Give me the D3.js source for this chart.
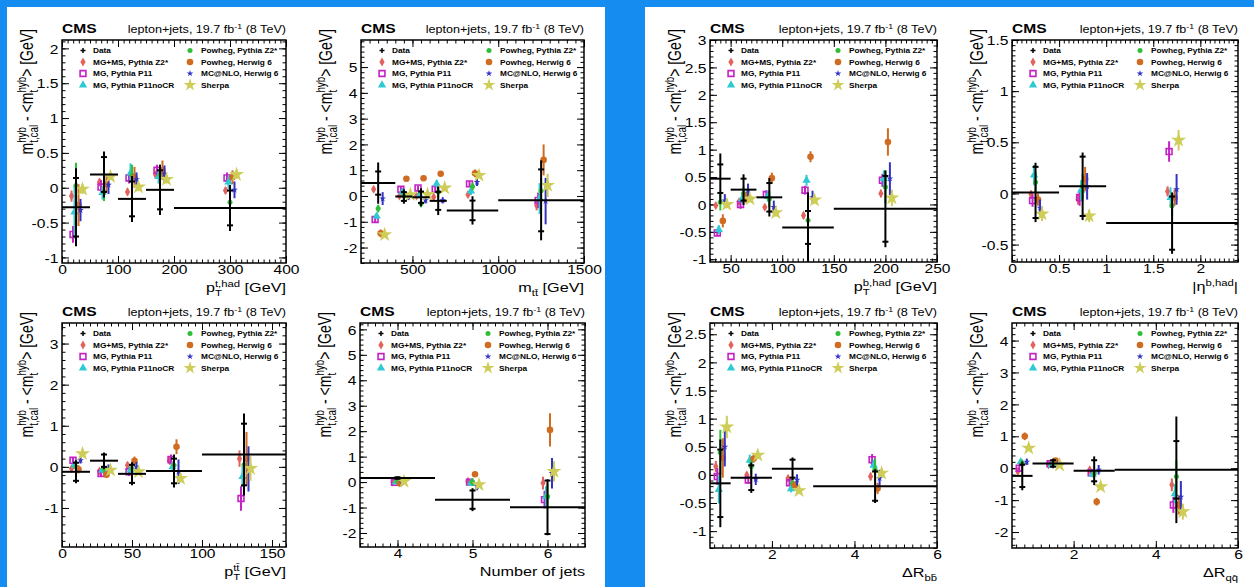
<!DOCTYPE html>
<html>
<head>
<meta charset="utf-8">
<script src="https://cdn.jsdelivr.net/npm/d3@7"></script>
<style>
  html, body { margin: 0; padding: 0; background: #148cf0; }
  svg { display: block; font-family: "Liberation Sans", Arial, Helvetica, sans-serif; }
  text { white-space: pre; }
</style>
</head>
<body>
<script>
// ---------- generators ----------
const generators = ["MG+MS, Pythia Z2*", "MG, Pythia P11", "MG, Pythia P11noCR",
                    "Powheg, Pythia Z2*", "Powheg, Herwig 6", "MC@NLO, Herwig 6", "Sherpa"];
const genColors = ["#e4625c", "#c423c4", "#2fc9d4", "#2fbd3a", "#cf6c22", "#3434c4", "#cdcd58"];

// ---------- p_T(t,had) ----------
const ptTopEdges   = [0, 50, 100, 150, 200, 400];
const ptTopCenters = [25, 75, 125, 175, 300];
const ptTopData    = [-0.28, 0.19, -0.16, -0.03, -0.29];
const ptTopStat    = [0.42, 0.25, 0.25, 0.28, 0.25];
const ptTopTotal   = [0.56, 0.33, 0.33, 0.36, 0.33];
const ptTopMC = [
  [-0.12, 0.08, -0.06, 0.19, -0.04],
  [-0.67, 0.01, 0.14, 0.25, 0.14],
  [-0.35, -0.07, 0.21, 0.16, 0.08],
  [0.03, -0.06, 0.18, 0.19, -0.21],
  [-0.25, 0.05, 0.15, 0.25, 0.15],
  [-0.32, 0.04, 0.12, 0.20, -0.03],
  [-0.02, 0.16, 0.01, 0.12, 0.19]
];
const ptTopMCErr = [
  [0.08, 0.05, 0.05, 0.05, 0.05],
  [0.12, 0.10, 0.08, 0.08, 0.08],
  [0.38, 0.10, 0.14, 0.10, 0.10],
  [0.33, 0.13, 0.15, 0.14, 0.12],
  [0.30, 0.12, 0.15, 0.14, 0.10],
  [0.16, 0.13, 0.10, 0.12, 0.12],
  [0.07, 0.05, 0.06, 0.06, 0.06]
];

// ---------- m(tt) ----------
const mttEdges   = [200, 400, 500, 600, 700, 1000, 1500];
const mttCenters = [300, 450, 550, 650, 850, 1250];
const mttData    = [0.50, -0.02, -0.05, -0.19, -0.56, -0.17];
const mttStat    = [0.45, 0.17, 0.22, 0.35, 0.38, 1.20];
const mttTotal   = [0.80, 0.28, 0.35, 0.55, 0.55, 1.55];
const mttMC = [
  [0.26, 0.00, 0.00, -0.04, 0.05, -0.36],
  [-0.91, 0.26, 0.31, 0.26, 0.47, -0.17],
  [-0.78, 0.15, 0.03, 0.47, 0.19, -0.10],
  [-0.49, 0.00, -0.29, 0.15, 0.37, 0.20],
  [-1.45, 0.67, 0.69, 0.86, 0.88, 1.40],
  [-0.10, -0.04, -0.17, -0.17, 0.54, -0.20],
  [-1.50, 0.05, 0.06, 0.31, 0.80, 0.41]
];
const mttMCErr = [
  [0.10, 0.08, 0.08, 0.10, 0.10, 0.20],
  [0.12, 0.10, 0.10, 0.10, 0.12, 0.30],
  [0.12, 0.10, 0.12, 0.15, 0.15, 0.60],
  [0.15, 0.15, 0.15, 0.20, 0.15, 0.50],
  [0.15, 0.10, 0.10, 0.10, 0.15, 0.60],
  [0.25, 0.12, 0.12, 0.12, 0.15, 0.90],
  [0.10, 0.08, 0.08, 0.10, 0.10, 0.45]
];

// ---------- p_T(tt) ----------
const ptTTEdges   = [0, 20, 40, 60, 100, 160];
const ptTTCenters = [10, 30, 50, 80, 130];
const ptTTData    = [-0.12, 0.15, -0.17, -0.10, 0.30];
const ptTTStat    = [0.22, 0.15, 0.22, 0.30, 0.75];
const ptTTTotal   = [0.28, 0.20, 0.28, 0.40, 1.00];
const ptTTMC = [
  [-0.04, -0.10, 0.04, 0.15, 0.20],
  [0.16, -0.16, -0.12, 0.18, -0.77],
  [0.04, -0.08, -0.08, 0.00, -0.24],
  [0.00, -0.04, -0.04, 0.04, 0.05],
  [-0.06, -0.19, 0.15, 0.49, 0.20],
  [0.16, -0.04, 0.00, -0.12, -0.05],
  [0.32, -0.08, -0.12, -0.28, -0.04]
];
const ptTTMCErr = [
  [0.05, 0.05, 0.08, 0.08, 0.20],
  [0.08, 0.08, 0.10, 0.12, 0.30],
  [0.10, 0.08, 0.10, 0.12, 0.25],
  [0.12, 0.10, 0.12, 0.20, 0.50],
  [0.10, 0.08, 0.10, 0.18, 0.65],
  [0.08, 0.10, 0.12, 0.30, 0.55],
  [0.05, 0.05, 0.06, 0.10, 0.30]
];

// ---------- number of jets ----------
const njEdges   = [3.5, 4.5, 5.5, 6.5];
const njCenters = [4, 5, 6];
const njData    = [0.16, -0.69, -0.99];
const njStat    = [0.03, 0.36, 1.05];
const njTotal   = [0.06, 0.45, 1.10];
const njMC = [
  [0.00, 0.03, -0.04],
  [-0.01, 0.00, -0.69],
  [0.00, -0.04, -0.56],
  [0.03, 0.00, -0.56],
  [-0.06, 0.31, 2.05],
  [0.00, -0.17, 0.35],
  [0.03, -0.10, 0.42]
];
const njMCErr = [
  [0.04, 0.07, 0.25],
  [0.04, 0.08, 0.35],
  [0.04, 0.10, 0.40],
  [0.05, 0.15, 0.50],
  [0.05, 0.10, 0.65],
  [0.04, 0.15, 0.60],
  [0.04, 0.10, 0.40]
];

// ---------- p_T(b,had) ----------
const ptBEdges   = [30, 50, 75, 100, 150, 250];
const ptBCenters = [40, 62.5, 87.5, 125, 200];
const ptBData    = [0.47, 0.27, 0.13, -0.42, -0.08];
const ptBStat    = [0.26, 0.20, 0.26, 0.30, 0.60];
const ptBTotal   = [0.46, 0.28, 0.35, 0.64, 0.70];
const ptBMC = [
  [-0.02, 0.05, -0.05, -0.20, 0.20],
  [-0.52, 0.00, 0.18, 0.26, 0.44],
  [-0.46, 0.10, 0.15, 0.44, 0.47],
  [0.04, 0.20, 0.10, -0.29, 0.32],
  [-0.30, 0.13, 0.48, 0.87, 1.14],
  [0.07, 0.26, -0.05, 0.13, 0.47],
  [0.00, 0.10, -0.15, 0.08, 0.12]
];
const ptBMCErr = [
  [0.05, 0.05, 0.05, 0.06, 0.07],
  [0.06, 0.08, 0.08, 0.08, 0.12],
  [0.08, 0.08, 0.10, 0.10, 0.15],
  [0.15, 0.12, 0.15, 0.12, 0.30],
  [0.12, 0.10, 0.10, 0.10, 0.25],
  [0.12, 0.12, 0.12, 0.12, 0.30],
  [0.07, 0.06, 0.07, 0.07, 0.15]
];

// ---------- |eta(b,had)| ----------
const etaBEdges   = [0, 0.5, 1, 2.4];
const etaBCenters = [0.25, 0.75, 1.7];
const etaBData    = [0.01, 0.07, -0.29];
const etaBStat    = [0.25, 0.29, 0.26];
const etaBTotal   = [0.29, 0.33, 0.30];
const etaBMC = [
  [-0.01, -0.06, 0.02],
  [-0.07, -0.04, 0.41],
  [0.18, 0.03, -0.04],
  [0.11, 0.07, -0.12],
  [-0.06, 0.14, -0.04],
  [-0.14, 0.07, 0.04],
  [-0.20, -0.22, 0.52]
];
const etaBMCErr = [
  [0.04, 0.05, 0.05],
  [0.06, 0.08, 0.10],
  [0.10, 0.10, 0.10],
  [0.10, 0.12, 0.10],
  [0.06, 0.12, 0.08],
  [0.08, 0.13, 0.15],
  [0.07, 0.06, 0.10]
];

// ---------- DeltaR(b,b) ----------
const drBBEdges   = [0.5, 1, 2, 3, 6];
const drBBCenters = [0.75, 1.5, 2.5, 4.5];
const drBBData    = [-0.15, -0.05, 0.11, -0.20];
const drBBStat    = [0.60, 0.22, 0.16, 0.26];
const drBBTotal   = [0.78, 0.27, 0.20, 0.30];
const drBBMC = [
  [0.15, 0.00, -0.06, -0.03],
  [-0.03, -0.09, -0.14, 0.27],
  [-0.26, 0.26, -0.25, 0.17],
  [0.40, 0.15, -0.15, 0.09],
  [0.30, 0.29, -0.18, -0.24],
  [0.50, -0.08, -0.09, -0.06],
  [0.85, 0.35, -0.28, 0.03]
];
const drBBMCErr = [
  [0.10, 0.05, 0.05, 0.07],
  [0.15, 0.07, 0.06, 0.10],
  [0.25, 0.10, 0.06, 0.10],
  [0.40, 0.15, 0.08, 0.20],
  [0.35, 0.07, 0.06, 0.10],
  [0.35, 0.10, 0.10, 0.15],
  [0.20, 0.07, 0.05, 0.07]
];

// ---------- DeltaR(q,q) ----------
const drQQEdges   = [0.5, 1, 2, 3, 6];
const drQQCenters = [0.75, 1.5, 2.5, 4.5];
const drQQData    = [-0.24, 0.15, -0.08, -0.05];
const drQQStat    = [0.35, 0.10, 0.33, 0.90];
const drQQTotal   = [0.45, 0.15, 0.45, 1.67];
const drQQMC = [
  [-0.10, 0.10, -0.05, -0.52],
  [0.00, 0.14, -0.14, -1.15],
  [0.20, 0.10, -0.19, -0.80],
  [0.15, 0.16, -0.16, -0.26],
  [1.00, 0.24, -1.05, -1.15],
  [0.20, 0.13, -0.05, -0.90],
  [0.63, 0.10, -0.58, -1.36]
];
const drQQMCErr = [
  [0.05, 0.05, 0.07, 0.20],
  [0.10, 0.06, 0.08, 0.25],
  [0.08, 0.07, 0.10, 0.30],
  [0.12, 0.08, 0.12, 0.50],
  [0.12, 0.08, 0.12, 0.30],
  [0.10, 0.08, 0.15, 0.50],
  [0.08, 0.05, 0.08, 0.25]
];

// ---------- tick labels ----------
const ptTopXTicks = [0, 100, 200, 300, 400];
const ptTopYTicks = [-1, -0.5, 0, 0.5, 1, 1.5, 2];
const mttXTicks   = [500, 1000, 1500];
const mttYTicks   = [-2, -1, 0, 1, 2, 3, 4, 5];
const ptTTXTicks  = [0, 50, 100, 150];
const ptTTYTicks  = [-1, 0, 1, 2, 3];
const njXTicks    = [4, 5, 6];
const njYTicks    = [-2, -1, 0, 1, 2, 3, 4, 5, 6];
const ptBXTicks   = [50, 100, 150, 200, 250];
const ptBYTicks   = [-1, -0.5, 0, 0.5, 1, 1.5, 2, 2.5, 3];
const etaBXTicks  = [0, 0.5, 1, 1.5, 2];
const etaBYTicks  = [-0.5, 0, 0.5, 1, 1.5];
const drXTicks    = [2, 4, 6];
const drBBYTicks  = [-1, -0.5, 0, 0.5, 1, 1.5, 2, 2.5];
const drQQYTicks  = [-2, -1, 0, 1, 2, 3, 4];

// ---------- drawing ----------
const W = 1254, H = 587;
const SX = 1.2;            // horizontal text stretch of the figure
const FONT = 13;

const svg = d3.select("body").append("svg").attr("width", W).attr("height", H);
const defs = svg.append("defs");
svg.append("rect").attr("width", W).attr("height", H).attr("fill", "#148cf0");
svg.append("rect").attr("x", 7).attr("y", 7).attr("width", 598).attr("height", 580).attr("fill", "#fff");
svg.append("rect").attr("x", 645).attr("y", 7).attr("width", 609).attr("height", 580).attr("fill", "#fff");

// marker style of each generator
const genMarks = [
  { type: d3.symbolDiamond,  size: 24, open: false },
  { type: d3.symbolSquare,   size: 34, open: true  },
  { type: d3.symbolTriangle, size: 30, open: false },
  { type: d3.symbolCircle,   size: 20, open: false },
  { type: d3.symbolCircle,   size: 34, open: false },
  { type: d3.symbolStar,     size: 14, open: false },
  { type: d3.symbolStar,     size: 70, open: false }
];
const genOffsets = [-4.5, -3, -1.5, 0, 2.5, 4.5, 6.5];

function styleMark(sel, gi, scale) {
  const m = genMarks[gi];
  sel.attr("d", d3.symbol(m.type, m.size * (scale || 1))())
     .attr("fill", m.open ? "none" : genColors[gi])
     .attr("stroke", m.open ? genColors[gi] : "none")
     .attr("stroke-width", m.open ? 1.6 : 0);
}

// text made of pieces with sub/superscripts, laid out from the origin
function richText(g, parts, fs) {
  let x = 0;
  parts.forEach(p => {
    if (p.t !== undefined) {
      const e = g.append("text").attr("x", x).attr("y", 0).attr("font-size", fs).text(p.t);
      x += e.node().getComputedTextLength();
    } else {
      let w = 0;
      const s = fs * 0.7;
      if (p.sub) {
        const e = g.append("text").attr("x", x).attr("y", fs * 0.3).attr("font-size", s).text(p.sub);
        w = Math.max(w, e.node().getComputedTextLength());
      }
      if (p.sup) {
        const e = g.append("text").attr("x", x).attr("y", -fs * 0.4).attr("font-size", s).text(p.sup);
        w = Math.max(w, e.node().getComputedTextLength());
      }
      x += w;
    }
  });
  return x;
}

function placeRich(parent, parts, fs, X, Y, rot, sx) {
  const outer = parent.append("g")
    .attr("transform", `translate(${X},${Y}) scale(${sx || SX},1)` + (rot ? ` rotate(${rot})` : ""));
  const inner = outer.append("g");
  const w = richText(inner, parts, fs);
  inner.attr("transform", `translate(${-w},0)`);
  return outer;
}

function minorValues(domain, step) {
  const out = [];
  const k0 = Math.ceil(domain[0] / step - 1e-9), k1 = Math.floor(domain[1] / step + 1e-9);
  for (let k = k0; k <= k1; k++) out.push(+(k * step).toFixed(6));
  return out;
}

const fmt = v => String(+v.toFixed(2));

const yTitle = [{ t: "m" }, { sub: "t,cal", sup: "hyb" }, { t: " - <m" }, { sub: "t", sup: "hyb" }, { t: "> [GeV]" }];

const panels = [
  { edges: ptTopEdges, centers: ptTopCenters, data: ptTopData, stat: ptTopStat, total: ptTopTotal,
    mc: ptTopMC, mcErr: ptTopMCErr, xDomain: [0, 400], yDomain: [-1.08, 2.12],
    xTicks: ptTopXTicks, xMinor: 10, yTicks: ptTopYTicks, yMinor: 0.1,
    xTitle: [{ t: "p" }, { sub: "T", sup: "t,had" }, { t: " [GeV]" }], frame: [62, 40, 224, 223] },
  { edges: mttEdges, centers: mttCenters, data: mttData, stat: mttStat, total: mttTotal,
    mc: mttMC, mcErr: mttMCErr, xDomain: [200, 1500], yDomain: [-2.6, 6.05],
    xTicks: mttXTicks, xMinor: 50, yTicks: mttYTicks, yMinor: 0.2,
    xTitle: [{ t: "m" }, { sub: "tt\u0304" }, { t: " [GeV]" }], frame: [361, 40, 223, 223] },
  { edges: ptTTEdges, centers: ptTTCenters, data: ptTTData, stat: ptTTStat, total: ptTTTotal,
    mc: ptTTMC, mcErr: ptTTMCErr, xDomain: [0, 160], yDomain: [-1.95, 3.5],
    xTicks: ptTTXTicks, xMinor: 5, yTicks: ptTTYTicks, yMinor: 0.2,
    xTitle: [{ t: "p" }, { sub: "T", sup: "tt\u0304" }, { t: " [GeV]" }], frame: [62, 323, 224, 224] },
  { edges: njEdges, centers: njCenters, data: njData, stat: njStat, total: njTotal,
    mc: njMC, mcErr: njMCErr, xDomain: [3.5, 6.5], yDomain: [-2.55, 6.25],
    xTicks: njXTicks, xMinor: 0.1, yTicks: njYTicks, yMinor: 0.2,
    xTitle: [{ t: "Number of jets" }], frame: [360, 323, 225, 224] },
  { edges: ptBEdges, centers: ptBCenters, data: ptBData, stat: ptBStat, total: ptBTotal,
    mc: ptBMC, mcErr: ptBMCErr, xDomain: [30, 250], yDomain: [-1.05, 3.0],
    xTicks: ptBXTicks, xMinor: 5, yTicks: ptBYTicks, yMinor: 0.1,
    xTitle: [{ t: "p" }, { sub: "T", sup: "b,had" }, { t: " [GeV]" }], frame: [710, 40, 227, 222] },
  { edges: etaBEdges, centers: etaBCenters, data: etaBData, stat: etaBStat, total: etaBTotal,
    mc: etaBMC, mcErr: etaBMCErr, xDomain: [0, 2.4], yDomain: [-0.67, 1.5],
    xTicks: etaBXTicks, xMinor: 0.05, yTicks: etaBYTicks, yMinor: 0.05,
    xTitle: [{ t: "|\u03b7" }, { sup: "b,had" }, { t: "|" }], frame: [1012, 40, 226, 222] },
  { edges: drBBEdges, centers: drBBCenters, data: drBBData, stat: drBBStat, total: drBBTotal,
    mc: drBBMC, mcErr: drBBMCErr, xDomain: [0.5, 6], yDomain: [-1.3, 2.7],
    xTicks: drXTicks, xMinor: 0.2, yTicks: drBBYTicks, yMinor: 0.1,
    xTitle: [{ t: "\u0394R" }, { sub: "bb\u0304" }], frame: [710, 323, 227, 225] },
  { edges: drQQEdges, centers: drQQCenters, data: drQQData, stat: drQQStat, total: drQQTotal,
    mc: drQQMC, mcErr: drQQMCErr, xDomain: [0.5, 6], yDomain: [-2.5, 4.55],
    xTicks: drXTicks, xMinor: 0.2, yTicks: drQQYTicks, yMinor: 0.2,
    xTitle: [{ t: "\u0394R" }, { sub: "qq\u0304" }], frame: [1012, 323, 226, 225] }
];

panels.forEach((p, pi) => {
  const [fx, fy, fw, fh] = p.frame;
  const g = svg.append("g").attr("transform", `translate(${fx},${fy})`);
  const x = d3.scaleLinear().domain(p.xDomain).range([0, fw]);
  const y = d3.scaleLinear().domain(p.yDomain).range([fh, 0]);

  defs.append("clipPath").attr("id", "clip" + pi)
    .append("rect").attr("width", fw).attr("height", fh);

  // axes: ticks point inward on all four sides
  const majorX = d3.axisBottom(x).tickValues(p.xTicks).tickSizeInner(-7).tickSizeOuter(0).tickPadding(2).tickFormat(fmt);
  const majorY = d3.axisLeft(y).tickValues(p.yTicks).tickSizeInner(-7).tickSizeOuter(0).tickPadding(3).tickFormat(fmt);
  const minX = minorValues(p.xDomain, p.xMinor);
  const minY = minorValues(p.yDomain, p.yMinor);

  const axB = g.append("g").attr("transform", `translate(0,${fh})`).call(majorX);
  const axL = g.append("g").call(majorY);
  g.append("g").call(d3.axisTop(x).tickValues(p.xTicks).tickSizeInner(-7).tickSizeOuter(0).tickFormat(""));
  g.append("g").attr("transform", `translate(${fw},0)`).call(d3.axisRight(y).tickValues(p.yTicks).tickSizeInner(-7).tickSizeOuter(0).tickFormat(""));
  g.append("g").attr("transform", `translate(0,${fh})`).call(d3.axisBottom(x).tickValues(minX).tickSizeInner(-3.5).tickSizeOuter(0).tickFormat(""));
  g.append("g").call(d3.axisTop(x).tickValues(minX).tickSizeInner(-3.5).tickSizeOuter(0).tickFormat(""));
  g.append("g").call(d3.axisLeft(y).tickValues(minY).tickSizeInner(-3.5).tickSizeOuter(0).tickFormat(""));
  g.append("g").attr("transform", `translate(${fw},0)`).call(d3.axisRight(y).tickValues(minY).tickSizeInner(-3.5).tickSizeOuter(0).tickFormat(""));
  g.selectAll(".domain").remove();
  g.selectAll(".tick line").attr("stroke", "#000").attr("stroke-width", 1);
  g.selectAll(".tick text").attr("fill", "#000").attr("font-size", FONT)
    .attr("font-family", "Liberation Sans, Arial, sans-serif");
  axB.selectAll(".tick text").attr("transform", `scale(${SX},1)`);
  axL.selectAll(".tick text").attr("transform", `scale(${SX},1)`).attr("dy", "0.36em");

  // simulation points with error bars
  const plot = g.append("g").attr("clip-path", `url(#clip${pi})`);
  p.mc.forEach((vals, gi) => {
    const pts = vals.map((v, bi) => ({ cx: x(p.centers[bi]) + genOffsets[gi], v, e: p.mcErr[gi][bi] }));
    const sg = plot.append("g");
    sg.selectAll("line").data(pts).join("line")
      .attr("x1", d => d.cx).attr("x2", d => d.cx)
      .attr("y1", d => y(d.v - d.e)).attr("y2", d => y(d.v + d.e))
      .attr("stroke", genColors[gi]).attr("stroke-width", 2);
    sg.selectAll("path").data(pts).join("path")
      .attr("transform", d => `translate(${d.cx},${y(d.v)})`)
      .call(s => styleMark(s, gi));
  });

  // data: bin width, total and statistical uncertainties
  const dpts = p.data.map((v, bi) => ({
    lo: p.edges[bi], hi: p.edges[bi + 1], c: p.centers[bi], v, s: p.stat[bi], t: p.total[bi]
  }));
  const dg = plot.append("g").attr("stroke", "#000").attr("stroke-width", 2);
  dg.selectAll("line.h").data(dpts).join("line").attr("class", "h")
    .attr("x1", d => x(d.lo)).attr("x2", d => x(d.hi))
    .attr("y1", d => y(d.v)).attr("y2", d => y(d.v));
  dg.selectAll("line.v").data(dpts).join("line").attr("class", "v")
    .attr("x1", d => x(d.c)).attr("x2", d => x(d.c))
    .attr("y1", d => y(d.v - d.t)).attr("y2", d => y(d.v + d.t));
  dg.selectAll("line.su").data(dpts).join("line").attr("class", "su")
    .attr("x1", d => x(d.c) - 3).attr("x2", d => x(d.c) + 3)
    .attr("y1", d => y(d.v + d.s)).attr("y2", d => y(d.v + d.s));
  dg.selectAll("line.sd").data(dpts).join("line").attr("class", "sd")
    .attr("x1", d => x(d.c) - 3).attr("x2", d => x(d.c) + 3)
    .attr("y1", d => y(d.v - d.s)).attr("y2", d => y(d.v - d.s));

  // frame
  g.append("rect").attr("width", fw).attr("height", fh)
    .attr("fill", "none").attr("stroke", "#000").attr("stroke-width", 1.5);

  // header
  g.append("text").attr("transform", `translate(0,-7) scale(${SX},1)`)
    .attr("font-size", 13).attr("font-weight", "bold").text("CMS");
  placeRich(g, [{ t: "lepton+jets, 19.7 fb" }, { sup: "-1" }, { t: " (8 TeV)" }], 10.5, fw, -7);

  // axis titles
  placeRich(g, p.xTitle, 13.5, fw, fh + 29);
  placeRich(g, yTitle, 14, -29, -11, -90, 1.3);

  // legend
  const rows = [10.5, 22, 33.5, 45];
  const lg = g.append("g");
  const legendItems = [{ name: "Data", gi: -1 }].concat(generators.map((n, i) => ({ name: n, gi: i })));
  legendItems.forEach((it, k) => {
    const col = k < 4 ? 0 : 1;
    const ry = rows[k % 4];
    const mx = col === 0 ? 21 : 128;
    const tx = col === 0 ? 31 : 139;
    if (it.gi < 0) {
      lg.append("line").attr("x1", mx - 2.5).attr("x2", mx + 2.5).attr("y1", ry).attr("y2", ry).attr("stroke", "#000").attr("stroke-width", 1.5);
      lg.append("line").attr("x1", mx).attr("x2", mx).attr("y1", ry - 2.5).attr("y2", ry + 2.5).attr("stroke", "#000").attr("stroke-width", 1.5);
    } else {
      lg.append("path").attr("transform", `translate(${mx},${ry})`).call(s => styleMark(s, it.gi, it.gi === 6 ? 0.75 : 1));
    }
    lg.append("text").attr("transform", `translate(${tx},${ry + 2.5}) scale(${SX},1)`)
      .attr("font-size", 6.9).attr("font-weight", "bold").text(it.name);
  });
});
</script>
</body>
</html>
